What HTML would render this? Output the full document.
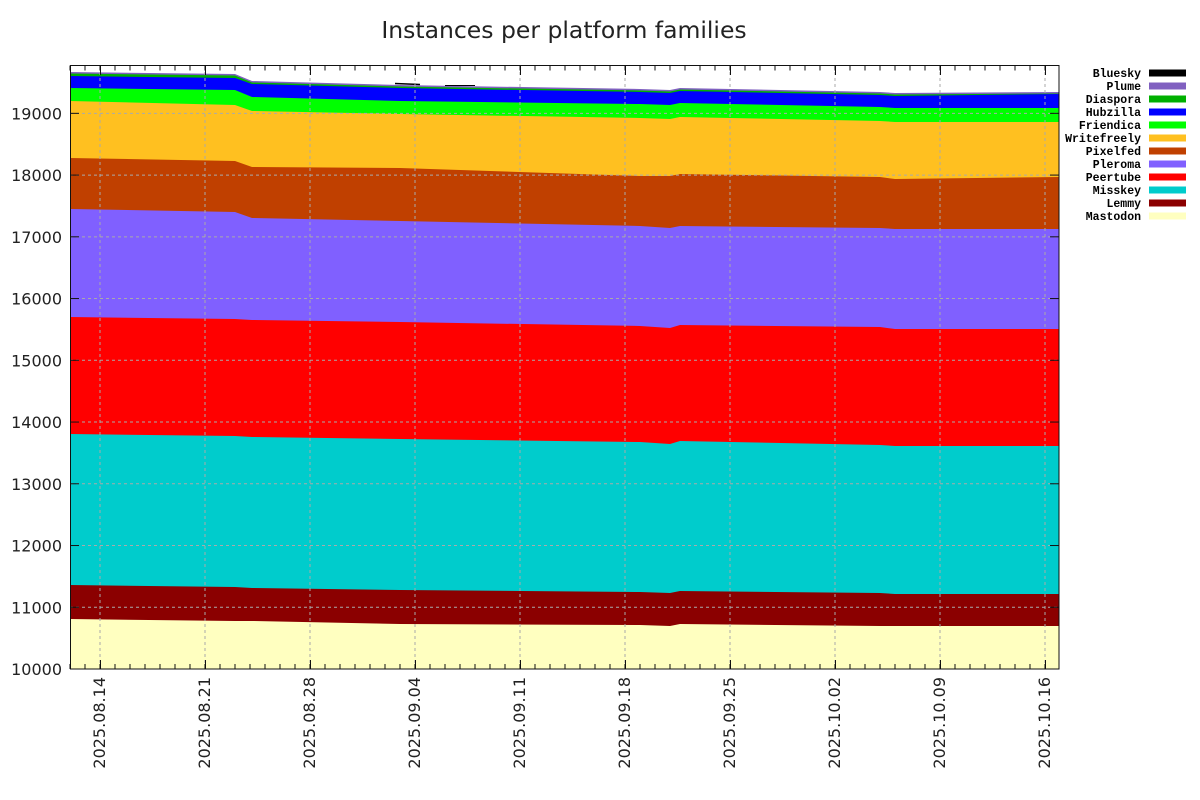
<!DOCTYPE html>
<html><head><meta charset="utf-8"><style>body{margin:0;background:#fff}svg{display:block}</style></head>
<body>
<svg width="1200" height="800" xmlns="http://www.w3.org/2000/svg" font-family="DejaVu Sans, Liberation Sans, sans-serif">
<rect width="1200" height="800" fill="#fff"/>
<text x="564" y="38" font-size="23.5" text-anchor="middle" fill="#222">Instances per platform families</text>
<polygon fill="#8060c0" points="70,72 235,74 252,81 400,85 640,89 670,90 680,88 880,92 895,93 1059,92 1059,669 70,669"/>
<polygon fill="#00b000" points="70,73.5 235,75.5 252,82.5 400,86.5 640,90.5 670,91.5 680,89.5 880,93.5 895,94.5 1059,93.5 1059,669 70,669"/>
<polygon fill="#0000ff" points="70,76 235,78 252,84 400,88 640,92 670,93 680,91 880,95 895,96 1059,94 1059,669 70,669"/>
<polygon fill="#00ff00" points="70,88 235,90 252,97 400,101 640,104 670,105 680,103 880,107 895,108 1059,108 1059,669 70,669"/>
<polygon fill="#ffc020" points="70,101 235,105 252,111 400,114 640,118 670,119 680,117 880,121 895,122 1059,122 1059,669 70,669"/>
<polygon fill="#c04000" points="70,158 235,161 252,167 400,168 640,176 670,176 680,174 880,177 895,179 1059,177 1059,669 70,669"/>
<polygon fill="#8060ff" points="70,209 235,212 252,218 400,221 640,226 670,228 680,226 880,228 895,229 1059,229 1059,669 70,669"/>
<polygon fill="#ff0000" points="70,317 235,319 252,320 400,322 640,326 670,328 680,325 880,327 895,329 1059,329 1059,669 70,669"/>
<polygon fill="#00cccc" points="70,434 235,436 252,437 400,439 640,442 670,444 680,441 880,445 895,446 1059,446 1059,669 70,669"/>
<polygon fill="#8b0000" points="70,585 235,587 252,588 400,590 640,592 670,593 680,591 880,593 895,594 1059,594 1059,669 70,669"/>
<polygon fill="#ffffc0" points="70,619 235,621 252,621 400,624 640,625 670,626 680,624 880,626 895,626 1059,626 1059,669 70,669"/>
<line x1="395" y1="83.5" x2="420" y2="84.5" stroke="#000" stroke-width="1.5"/>
<line x1="445" y1="85.5" x2="475" y2="85.5" stroke="#000" stroke-width="1"/>
<g stroke="#aaa" stroke-dasharray="3,3">
<line x1="70" x2="1059" y1="607.26" y2="607.26"/><line x1="70" x2="1059" y1="545.52" y2="545.52"/><line x1="70" x2="1059" y1="483.78" y2="483.78"/><line x1="70" x2="1059" y1="422.04" y2="422.04"/><line x1="70" x2="1059" y1="360.3" y2="360.3"/><line x1="70" x2="1059" y1="298.56" y2="298.56"/><line x1="70" x2="1059" y1="236.82" y2="236.82"/><line x1="70" x2="1059" y1="175.08" y2="175.08"/><line x1="70" x2="1059" y1="113.34" y2="113.34"/>
<line y1="66" y2="669" x1="100" x2="100"/><line y1="66" y2="669" x1="205" x2="205"/><line y1="66" y2="669" x1="310" x2="310"/><line y1="66" y2="669" x1="415" x2="415"/><line y1="66" y2="669" x1="520" x2="520"/><line y1="66" y2="669" x1="625" x2="625"/><line y1="66" y2="669" x1="730" x2="730"/><line y1="66" y2="669" x1="835" x2="835"/><line y1="66" y2="669" x1="940" x2="940"/><line y1="66" y2="669" x1="1045" x2="1045"/>
</g>
<rect x="70.5" y="65.5" width="988.5" height="603.5" fill="none" stroke="#111" stroke-width="1"/>
<g stroke="#111">
<line x1="69.5" x2="1058" y1="666.5" y2="666.5" stroke-width="5" stroke-dasharray="1 14"/>
<line x1="69.5" x2="1058" y1="68" y2="68" stroke-width="5" stroke-dasharray="1 14"/>
<line x1="100.5" x2="100.5" y1="660" y2="669"/><line x1="205.5" x2="205.5" y1="660" y2="669"/><line x1="310.5" x2="310.5" y1="660" y2="669"/><line x1="415.5" x2="415.5" y1="660" y2="669"/><line x1="520.5" x2="520.5" y1="660" y2="669"/><line x1="625.5" x2="625.5" y1="660" y2="669"/><line x1="730.5" x2="730.5" y1="660" y2="669"/><line x1="835.5" x2="835.5" y1="660" y2="669"/><line x1="940.5" x2="940.5" y1="660" y2="669"/><line x1="1045.5" x2="1045.5" y1="660" y2="669"/>
<line x1="100.5" x2="100.5" y1="66" y2="75"/><line x1="205.5" x2="205.5" y1="66" y2="75"/><line x1="310.5" x2="310.5" y1="66" y2="75"/><line x1="415.5" x2="415.5" y1="66" y2="75"/><line x1="520.5" x2="520.5" y1="66" y2="75"/><line x1="625.5" x2="625.5" y1="66" y2="75"/><line x1="730.5" x2="730.5" y1="66" y2="75"/><line x1="835.5" x2="835.5" y1="66" y2="75"/><line x1="940.5" x2="940.5" y1="66" y2="75"/><line x1="1045.5" x2="1045.5" y1="66" y2="75"/>
<line x1="70" x2="79" y1="607.26" y2="607.26"/><line x1="70" x2="79" y1="545.52" y2="545.52"/><line x1="70" x2="79" y1="483.78" y2="483.78"/><line x1="70" x2="79" y1="422.04" y2="422.04"/><line x1="70" x2="79" y1="360.3" y2="360.3"/><line x1="70" x2="79" y1="298.56" y2="298.56"/><line x1="70" x2="79" y1="236.82" y2="236.82"/><line x1="70" x2="79" y1="175.08" y2="175.08"/><line x1="70" x2="79" y1="113.34" y2="113.34"/>
<line x1="1050" x2="1059" y1="607.26" y2="607.26"/><line x1="1050" x2="1059" y1="545.52" y2="545.52"/><line x1="1050" x2="1059" y1="483.78" y2="483.78"/><line x1="1050" x2="1059" y1="422.04" y2="422.04"/><line x1="1050" x2="1059" y1="360.3" y2="360.3"/><line x1="1050" x2="1059" y1="298.56" y2="298.56"/><line x1="1050" x2="1059" y1="236.82" y2="236.82"/><line x1="1050" x2="1059" y1="175.08" y2="175.08"/><line x1="1050" x2="1059" y1="113.34" y2="113.34"/>
</g>
<g font-size="16" text-anchor="end" fill="#222">
<text x="62" y="675">10000</text><text x="62" y="613.3">11000</text><text x="62" y="551.5">12000</text><text x="62" y="489.8">13000</text><text x="62" y="428">14000</text><text x="62" y="366.3">15000</text><text x="62" y="304.6">16000</text><text x="62" y="242.8">17000</text><text x="62" y="181.1">18000</text><text x="62" y="119.3">19000</text>
<text transform="translate(105,677) rotate(-90)">2025.08.14</text>
<text transform="translate(210,677) rotate(-90)">2025.08.21</text>
<text transform="translate(315,677) rotate(-90)">2025.08.28</text>
<text transform="translate(420,677) rotate(-90)">2025.09.04</text>
<text transform="translate(525,677) rotate(-90)">2025.09.11</text>
<text transform="translate(630,677) rotate(-90)">2025.09.18</text>
<text transform="translate(735,677) rotate(-90)">2025.09.25</text>
<text transform="translate(840,677) rotate(-90)">2025.10.02</text>
<text transform="translate(945,677) rotate(-90)">2025.10.09</text>
<text transform="translate(1050,677) rotate(-90)">2025.10.16</text>
</g>
<g font-size="11.5" font-weight="bold" font-family="Liberation Mono, monospace" text-anchor="end" fill="#000">
<text x="1141" y="77">Bluesky</text><text x="1141" y="90">Plume</text><text x="1141" y="103">Diaspora</text><text x="1141" y="116">Hubzilla</text><text x="1141" y="129">Friendica</text><text x="1141" y="142">Writefreely</text><text x="1141" y="155">Pixelfed</text><text x="1141" y="168">Pleroma</text><text x="1141" y="181">Peertube</text><text x="1141" y="194">Misskey</text><text x="1141" y="207">Lemmy</text><text x="1141" y="220">Mastodon</text>
</g>
<rect x="1149" y="69.5" width="37" height="7" fill="#000"/>
<rect x="1149" y="82.5" width="37" height="7" fill="#8060c0"/>
<rect x="1149" y="95.5" width="37" height="7" fill="#00b000"/>
<rect x="1149" y="108.5" width="37" height="7" fill="#0000ff"/>
<rect x="1149" y="121.5" width="37" height="7" fill="#00ff00"/>
<rect x="1149" y="134.5" width="37" height="7" fill="#ffc020"/>
<rect x="1149" y="147.5" width="37" height="7" fill="#c04000"/>
<rect x="1149" y="160.5" width="37" height="7" fill="#8060ff"/>
<rect x="1149" y="173.5" width="37" height="7" fill="#ff0000"/>
<rect x="1149" y="186.5" width="37" height="7" fill="#00cccc"/>
<rect x="1149" y="199.5" width="37" height="7" fill="#8b0000"/>
<rect x="1149" y="212.5" width="37" height="7" fill="#ffffc0"/>
</svg>
</body></html>
